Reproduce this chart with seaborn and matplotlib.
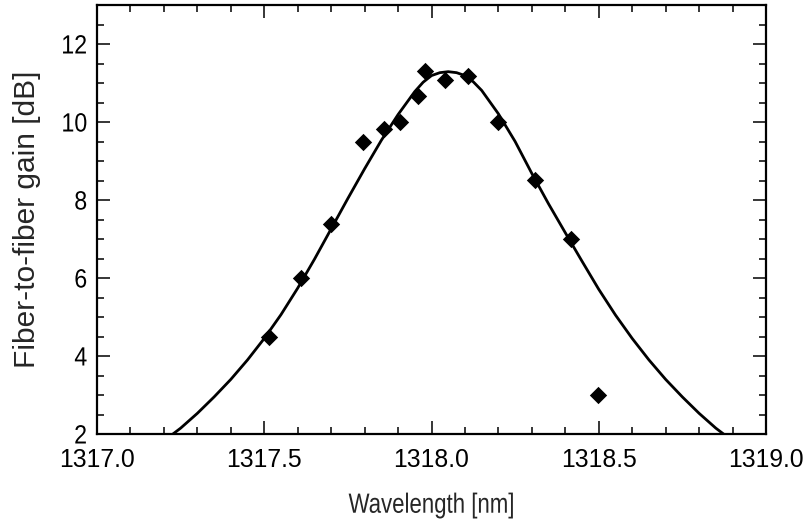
import numpy as np
import pandas as pd
import matplotlib
matplotlib.use("Agg")
import matplotlib.pyplot as plt
import seaborn as sns
from matplotlib.ticker import MultipleLocator, FormatStrFormatter
from matplotlib.patheffects import AbstractPathEffect
from matplotlib.transforms import Affine2D

# Measured data points (diamonds)
wl_points = [1317.515, 1317.61, 1317.70, 1317.796, 1317.857, 1317.906, 1317.959,
             1317.981, 1318.041, 1318.109, 1318.199, 1318.308, 1318.418, 1318.498]
gain_points = [4.49, 6.01, 7.38, 9.49, 9.81, 9.99, 10.67,
               11.32, 11.08, 11.19, 9.99, 8.51, 6.99, 3.00]

# Fitted curve
wl_fit = [1317.227, 1317.25, 1317.30, 1317.35, 1317.40, 1317.45, 1317.50, 1317.55,
          1317.60, 1317.65, 1317.70, 1317.75, 1317.80, 1317.85, 1317.90, 1317.95,
          1317.975, 1318.00, 1318.025, 1318.05, 1318.075, 1318.10, 1318.125, 1318.15,
          1318.20, 1318.25, 1318.30, 1318.35, 1318.40, 1318.45, 1318.50, 1318.55,
          1318.60, 1318.65, 1318.70, 1318.75, 1318.80, 1318.85, 1318.873]
gain_fit = [2.00, 2.15, 2.53, 2.95, 3.40, 3.90, 4.45, 5.06,
            5.74, 6.48, 7.26, 8.04, 8.80, 9.53, 10.19, 10.78,
            11.02, 11.19, 11.265, 11.29, 11.265, 11.19, 11.03, 10.81,
            10.21, 9.50, 8.68, 7.90, 7.16, 6.43, 5.71, 5.05,
            4.45, 3.90, 3.40, 2.95, 2.53, 2.15, 2.00]


class Squeeze(AbstractPathEffect):
    """Draw text glyphs condensed along the text direction (text stays text)."""

    def __init__(self, sx=0.85, anchor=0.5):
        super().__init__()
        self.sx = sx
        self.anchor = anchor

    def draw_path(self, renderer, gc, tpath, affine, rgbFace=None):
        ext = tpath.get_extents()
        a = ext.x0 + self.anchor * (ext.x1 - ext.x0)
        pre = Affine2D().translate(-a, 0).scale(self.sx, 1).translate(a, 0)
        renderer.draw_path(gc, tpath, pre + affine, rgbFace)


sns.set_style("ticks")
plt.rcParams["font.family"] = ["Liberation Sans", "DejaVu Sans"]

fig = plt.figure(figsize=(8.04, 5.23), dpi=100)
ax = fig.add_axes([97 / 804, 1 - 434 / 523, (766 - 97) / 804, (434 - 5) / 523])

df_fit = pd.DataFrame({"wl": wl_fit, "gain": gain_fit})
df_pts = pd.DataFrame({"wl": wl_points, "gain": gain_points})

sns.lineplot(data=df_fit, x="wl", y="gain", ax=ax, color="black", linewidth=2.0,
             sort=False, estimator=None)
sns.scatterplot(data=df_pts, x="wl", y="gain", ax=ax, marker="D", s=78,
                color="black", edgecolor="black", linewidth=0, zorder=3)

ax.set_xlim(1317.0, 1319.0)
ax.set_ylim(2, 13)
ax.xaxis.set_major_locator(MultipleLocator(0.5))
ax.xaxis.set_minor_locator(MultipleLocator(0.1))
ax.yaxis.set_major_locator(MultipleLocator(2))
ax.yaxis.set_minor_locator(MultipleLocator(0.5))
ax.xaxis.set_major_formatter(FormatStrFormatter("%.1f"))

for s in ax.spines.values():
    s.set_visible(True)
    s.set_linewidth(1.6)
    s.set_color("black")

ax.tick_params(which="both", direction="in", top=True, right=True, colors="black",
               width=1.1)
ax.tick_params(which="major", length=9.5)
ax.tick_params(which="minor", length=5)
ax.tick_params(axis="x", which="major", pad=10, labelsize=17.8)
ax.tick_params(axis="y", which="major", pad=7, labelsize=19)

fig.canvas.draw()
for lab in ax.get_yticklabels():
    lab.set_path_effects([Squeeze(0.88, 1.0)])

ax.set_xlabel("Wavelength [nm]", fontsize=20, labelpad=15,
              path_effects=[Squeeze(0.80, 0.5)])
ax.set_ylabel("Fiber-to-fiber gain [dB]", fontsize=21.5, labelpad=12)

fig.savefig("out.png", dpi=100)
